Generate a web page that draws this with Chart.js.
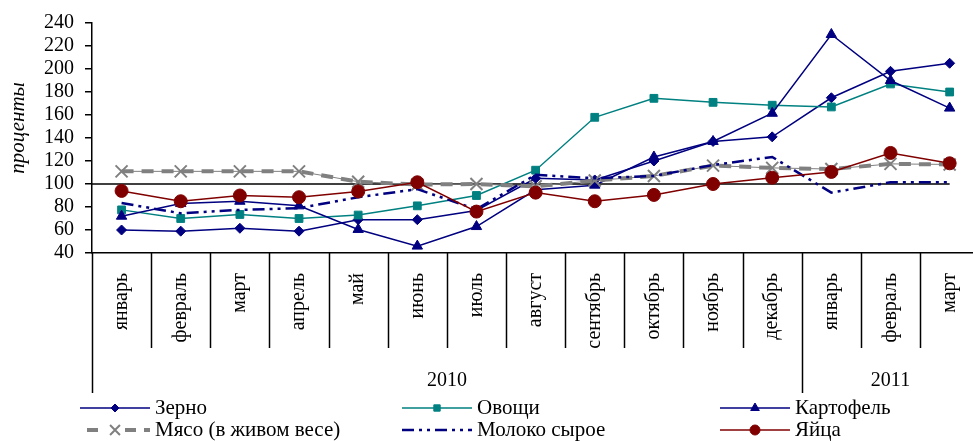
<!DOCTYPE html>
<html><head><meta charset="utf-8">
<script src="https://cdn.jsdelivr.net/npm/chart.js@4/dist/chart.umd.min.js"></script>
<style>
html,body{margin:0;padding:0;overflow:hidden;background:#fff;width:973px;height:441px}
#wrap{position:relative;width:994px;height:441px}
</style>
</head><body><div id="wrap"><canvas id="c" width="994" height="441"></canvas></div>
<script>
const months = ['январь','февраль','март','апрель','май','июнь','июль','август','сентябрь','октябрь','ноябрь','декабрь','январь','февраль','март'];
const years = ['2010','2011'];
const yearSpans = [12,3];
const yTicks = [40,60,80,100,120,140,160,180,200,220,240];
const baseline = 100;
const yTitle = 'проценты';

const grain      = [60,59,61.5,59,69,69,77,105,103.5,120,137,141,175,198,205];
const vegetables = [77.5,70,73.5,70,73,81,90,112,158,174.5,171,168.5,167,187,180];
const potatoes   = [72,83,85,81,60.5,46,63,95,99,123.5,137,161.5,230,190,166];
const meat       = [111,111,111,111,102,99.5,100,98,103,107,116,114,113,117.5,117];
const milk       = [83.5,74.5,77.5,79,88.5,95.5,78,108,105,107,116.5,123.5,92.5,101.5,101.5];
const eggs       = [94,85,90,88.5,93.5,101.5,76,92.5,85,90.5,100,105.5,110.5,127,118];

const FONT = 'Liberation Serif';
const NAVY = '#000080', TEAL = '#008080', GRAY = '#808080', RED = '#800000';

const series = [
  {label:'Зерно', data:grain, color:NAVY, style:'rectRot', r:5, lr:4, w:1.5},
  {label:'Овощи', data:vegetables, color:TEAL, style:'rect', r:5.5, lr:4.5, w:1.5},
  {label:'Картофель', data:potatoes, color:NAVY, style:'triangle', r:6, lr:5, w:1.5},
  {label:'Мясо (в живом весе)', data:meat, color:GRAY, style:'crossRot', r:8.5, lr:7, w:4, dash:[12,8], pbw:2},
  {label:'Молоко сырое', data:milk, color:NAVY, style:false, r:0, lr:0, w:2.5, dash:[12,5,3,5,3,5]},
  {label:'Яйца', data:eggs, color:RED, style:'circle', r:6.5, lr:5, w:1.5}
];

const datasets = series.map((s,i)=>({
  label:s.label, data:s.data, borderColor:s.color, backgroundColor:s.color,
  pointBackgroundColor: s.style==='crossRot' ? 'transparent' : s.color,
  pointBorderColor:s.color, pointBorderWidth:s.pbw||1,
  borderWidth:s.w, borderDash:s.dash||[], pointStyle:s.style||'circle',
  pointRadius:s.r, tension:0, fill:false, order:10-i*2
}));
datasets.push({label:'_meatThin', data:meat, borderColor:GRAY, borderWidth:1, pointRadius:0, fill:false, order:10-3*2+1});

const custom = {
  id:'custom',
  beforeDatasetsDraw(chart){
    const {ctx, chartArea, scales:{x,y}} = chart;
    const py = y.getPixelForValue(baseline);
    ctx.save(); ctx.strokeStyle='#000'; ctx.lineWidth=1.5;
    ctx.beginPath(); ctx.moveTo(chartArea.left, py); ctx.lineTo(x.getPixelForValue(months.length-1), py); ctx.stroke();
    ctx.restore();
  },
  afterDraw(chart){
    const {ctx, chartArea, scales:{x,y}} = chart;
    const bottom = chartArea.bottom;
    const half = (x.getPixelForValue(1)-x.getPixelForValue(0))/2;
    const bx = i => i < months.length ? x.getPixelForValue(i)-half : x.getPixelForValue(months.length-1)+half;
    const yearStarts = [0]; yearSpans.reduce((a,n)=>{yearStarts.push(a+n); return a+n;},0);
    ctx.save();
    ctx.strokeStyle='#000'; ctx.lineWidth=1.5;
    for(let i=0;i<=months.length;i++){
      const long = yearStarts.includes(i);
      const px = Math.round(bx(i))+0.5;
      ctx.beginPath(); ctx.moveTo(px,bottom); ctx.lineTo(px,bottom+(long?140:95)); ctx.stroke();
    }
    ctx.fillStyle='#000'; ctx.font='20px "'+FONT+'"'; ctx.textAlign='center'; ctx.textBaseline='middle';
    years.forEach((yr,k)=>{
      const cx = (bx(yearStarts[k])+bx(yearStarts[k+1]))/2;
      ctx.fillText(yr, cx, bottom+128);
    });
    ctx.save(); ctx.translate(18,128); ctx.rotate(-Math.PI/2);
    ctx.font='italic 21px "'+FONT+'"'; ctx.fillText(yTitle,0,0); ctx.restore();
    const colX=[80,402,720], rowY=[408,430];
    series.forEach((s,i)=>{
      const x0=colX[i%3], yy=rowY[Math.floor(i/3)];
      ctx.save();
      ctx.strokeStyle=s.color; ctx.lineWidth=Math.min(s.w,4);
      ctx.setLineDash(s.dash||[]);
      if(s.style==='crossRot'){ctx.setLineDash([11,8]); ctx.lineDashOffset=-7;}
      ctx.beginPath(); ctx.moveTo(x0,yy); ctx.lineTo(x0+70,yy); ctx.stroke();
      ctx.setLineDash([]);
      if(s.style){
        if(s.style==='crossRot'){ctx.fillStyle='#fff'; ctx.fillRect(x0+25,yy-3,20,6);}
        ctx.fillStyle = s.color;
        ctx.lineWidth = s.pbw||1;
        Chart.helpers.drawPoint(ctx,{pointStyle:s.style,radius:s.lr,borderWidth:s.pbw||1,rotation:0},x0+35,yy);
      }
      ctx.restore();
      ctx.fillStyle='#000'; ctx.font='21px "'+FONT+'"'; ctx.textAlign='left'; ctx.textBaseline='middle';
      ctx.fillText(s.label, x0+75, yy);
    });
    ctx.restore();
  }
};

new Chart(document.getElementById('c').getContext('2d'), {
  type:'line',
  data:{labels:months, datasets},
  options:{
    responsive:false, animation:false, devicePixelRatio:1,
    layout:{padding:{top:22,right:1,left:0,bottom:0}},
    plugins:{legend:{display:false}, tooltip:{enabled:false}},
    scales:{
      x:{offset:true, grid:{display:false, drawTicks:false}, border:{color:'#000', width:1.5},
         ticks:{autoSkip:false, minRotation:90, maxRotation:90, padding:20, color:'#000', font:{family:FONT, size:20}},
         afterFit(s){s.height=188;}},
      y:{min:40, max:240,
         afterBuildTicks(s){s.ticks = yTicks.map(v=>({value:v}));},
         ticks:{autoSkip:false, color:'#000', padding:11, font:{family:FONT, size:20}},
         grid:{drawOnChartArea:false, color:'#000', tickLength:7, lineWidth:1.5},
         border:{color:'#000', width:1.5},
         afterFit(s){s.width=92;}}
    }
  },
  plugins:[custom]
});
</script>
</body></html>
